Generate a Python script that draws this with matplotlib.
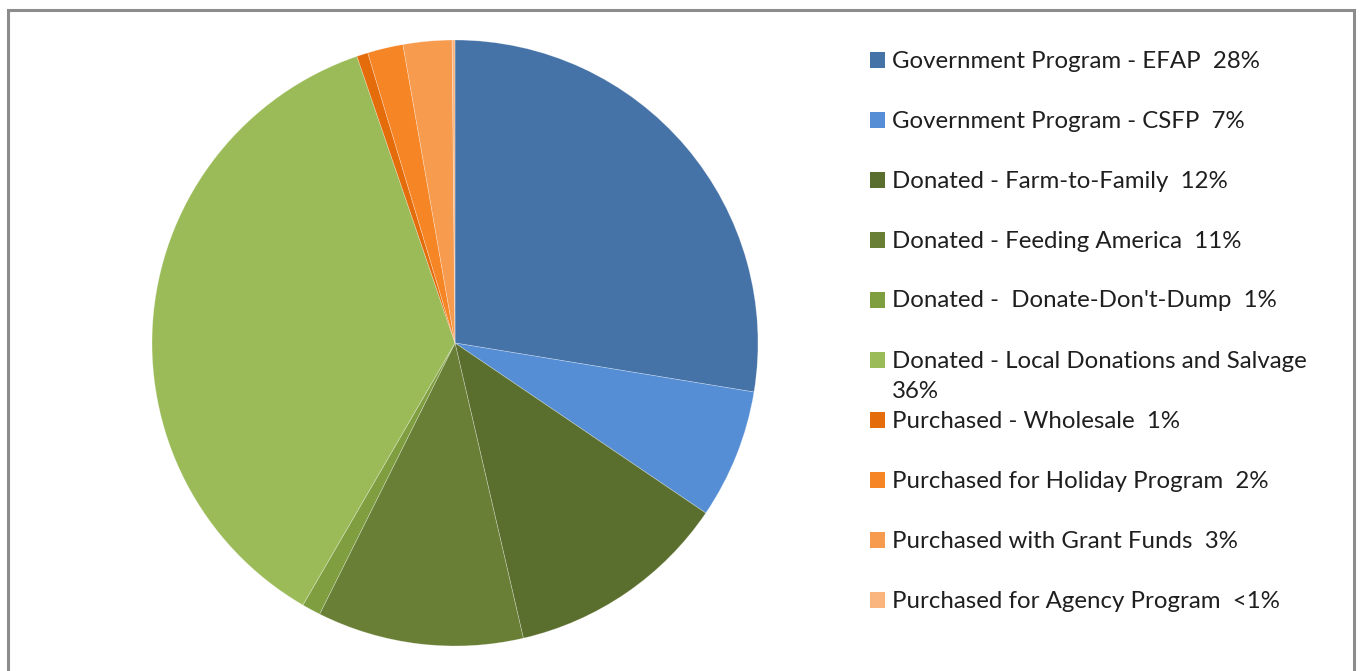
import matplotlib
matplotlib.use("Agg")
import matplotlib.pyplot as plt
from matplotlib.patches import Rectangle

categories = [
    "Government Program - EFAP  28%",
    "Government Program - CSFP  7%",
    "Donated - Farm-to-Family  12%",
    "Donated - Feeding America  11%",
    "Donated -  Donate-Don't-Dump  1%",
    "Donated - Local Donations and Salvage\n36%",
    "Purchased - Wholesale  1%",
    "Purchased for Holiday Program  2%",
    "Purchased with Grant Funds  3%",
    "Purchased for Agency Program  <1%",
]
values = [27.6, 6.9, 11.9, 11.0, 1.0, 36.4, 0.6, 1.9, 2.6, 0.15]
colors = ["#4572A7", "#558ED5", "#5A6E2E", "#687F35", "#7E9E3F",
          "#9BBB59", "#E46C0A", "#F68526", "#F79B4E", "#FAB47E"]

W, H = 1360, 671
fig = plt.figure(figsize=(W / 100, H / 100), dpi=100)
fig.patch.set_facecolor("white")

# pie axes: center (455, 343), radius 303 px
cx, cy, r = 455, 343, 303
ax = fig.add_axes([(cx - r) / W, 1 - (cy + r) / H, 2 * r / W, 2 * r / H])
ax.pie(values, colors=colors, startangle=90, counterclock=False,
       radius=1.0, wedgeprops=dict(linewidth=0.5, edgecolor=(1, 1, 1, 0.35)))
ax.set_xlim(-1, 1)
ax.set_ylim(-1, 1)
ax.set_aspect("equal")
ax.axis("off")

# frame
frame = Rectangle((8 / W, -0.05), (1354 - 8) / W, 1.05 - 10 / H,
                  transform=fig.transFigure, fill=False,
                  edgecolor="#8C8C8C", linewidth=2.2)
fig.add_artist(frame)

# legend
font = ["Lato", "DejaVu Sans"]
row_y = [60, 120, 180, 240, 300, 360, 420, 480, 540, 600]
for lab, col, y in zip(categories, colors, row_y):
    fig.add_artist(Rectangle((870 / W, 1 - (y + 8) / H), 15 / W, 16 / H,
                             transform=fig.transFigure, facecolor=col,
                             edgecolor="none"))
    for k, line in enumerate(lab.split("\n")):
        fig.text(892 / W, 1 - (y + 1 + 31 * k) / H, line, ha="left", va="center",
                 fontsize=17.3, family=font, color="#1f1f1f")

fig.savefig("out.png", dpi=100)
